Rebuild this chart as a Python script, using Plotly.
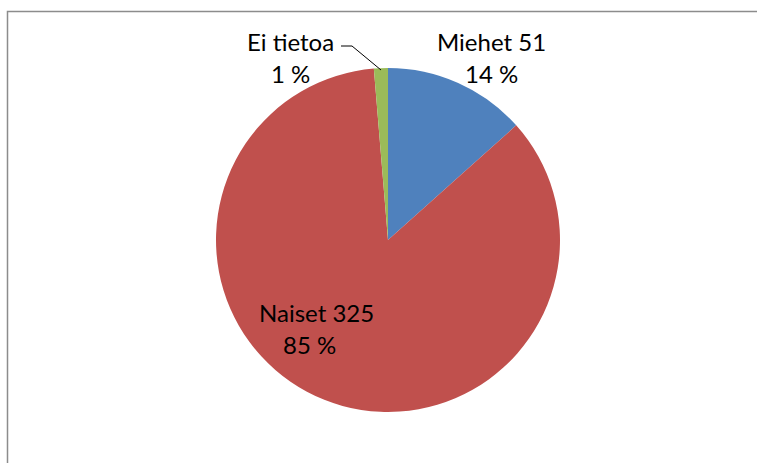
import plotly.graph_objects as go

# ------------------------------------------------------------
#                          DATA
# ------------------------------------------------------------
labels = ['Miehet', 'Naiset', 'Ei tietoa']
values = [51, 325, 5]
percents = [14, 85, 1]
label_lines = [['Miehet 51', '14 %'],
               ['Naiset 325', '85 %'],
               ['Ei tietoa', '1 %']]
colors = ['#4F81BD', '#C0504D', '#9BBB59']

W, H = 757, 463

# label line positions (pixels) for each slice
label_pos = [[(491, 42), (491, 73)],
             [(316, 312), (309, 344)],
             [(290, 42), (290, 73)]]


def px(x):
    return x / W


def py(y):
    return 1 - y / H


# ------------------------------------------------------------
#                          PLOT
# ------------------------------------------------------------
fig = go.Figure(go.Pie(
    labels=labels,
    values=values,
    sort=False,
    direction='clockwise',
    rotation=0,
    marker=dict(colors=colors, line=dict(width=0)),
    textinfo='none',
    hoverinfo='label+value+percent',
    showlegend=False,
    domain=dict(x=[px(216), px(560)], y=[py(412), py(68)]),
))

font = dict(family='Lato, Carlito, sans-serif', size=24, color='black')
for lines, pos in zip(label_lines, label_pos):
    for txt, (x_, y_) in zip(lines, pos):
        fig.add_annotation(x=px(x_), y=py(y_), xref='paper', yref='paper',
                           text=txt, showarrow=False, font=font,
                           xanchor='center', yanchor='middle')

# leader line for the small slice
fig.add_shape(type='path', xref='paper', yref='paper',
              path='M {} {} L {} {} L {} {}'.format(px(341), py(46),
                                                     px(352), py(46),
                                                     px(381), py(70)),
              line=dict(color='black', width=1))

# chart area border
fig.add_shape(type='rect', xref='paper', yref='paper',
              x0=px(7.5), x1=1.02, y0=-0.02, y1=py(11.5),
              line=dict(color='#8C8C8C', width=1.5))

fig.update_layout(
    width=W, height=H,
    margin=dict(l=0, r=0, t=0, b=0),
    paper_bgcolor='white',
    plot_bgcolor='white',
)

fig.write_html("out.html", config={'displayModeBar': False},
               post_script="document.body.style.margin='0';document.body.style.overflow='hidden';")
